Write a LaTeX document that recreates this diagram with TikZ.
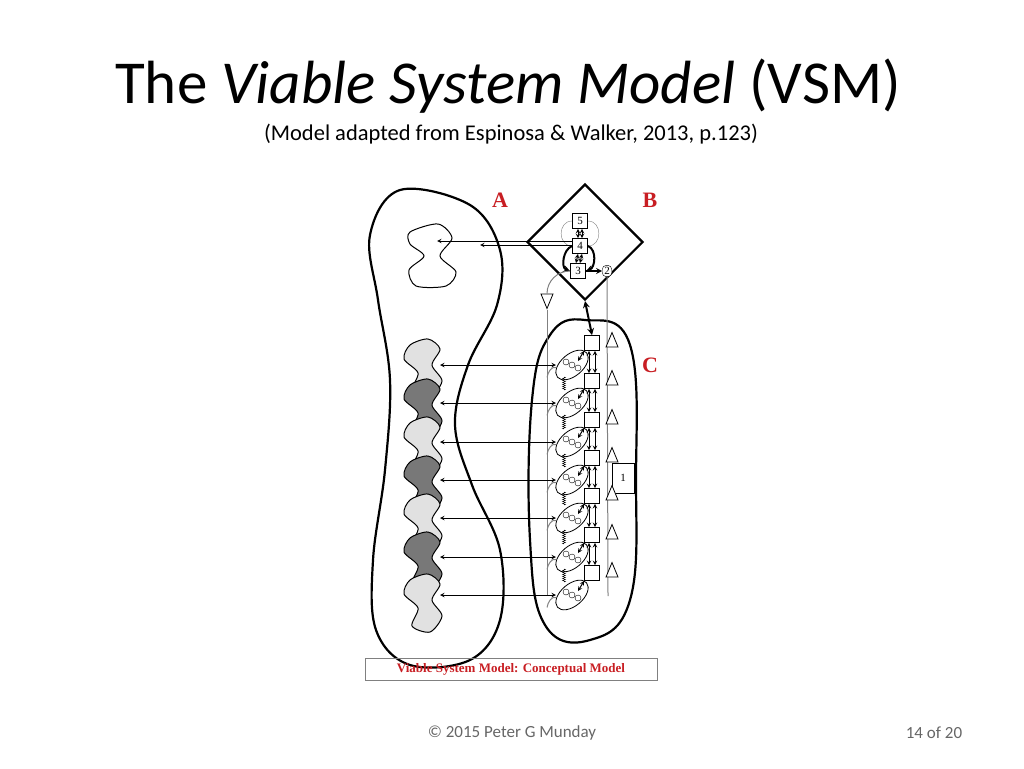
\documentclass[tikz,border=0pt]{standalone}
\usepackage{fontspec}
\setmainfont{Carlito}
\newfontfamily\serifbold{Liberation Serif}
\usetikzlibrary{positioning}
\usetikzlibrary{shapes.geometric}
\usetikzlibrary{decorations.pathmorphing}
\definecolor{vsmred}{RGB}{200,30,35}
\definecolor{lightblob}{RGB}{225,225,225}
\definecolor{darkblob}{RGB}{120,120,120}
\tikzset{
  sys/.style={draw,fill=white,line width=0.8pt,minimum size=15pt,inner sep=1pt,font=\serifbold\fontsize{11}{11}\selectfont},
  tri/.style={draw,line width=0.8pt,isosceles triangle,shape border rotate=90,minimum width=12pt,minimum height=9pt,inner sep=0pt,fill=white},
  op/.style={draw,line width=0.8pt,ellipse,minimum width=38pt,minimum height=22pt,rotate=40,fill=white},
  lbl/.style={text=vsmred,font=\serifbold\bfseries\fontsize{22}{22}\selectfont},
  link/.style={line width=1pt,-stealth},
  dlink/.style={line width=1pt,stealth-stealth},
  blob/.style={draw,line width=1pt},
  outline/.style={draw,line width=2.2pt}
}
\begin{document}
\begin{tikzpicture}[x=1pt,y=-1pt]
\useasboundingbox (0,0) rectangle (1024,768);
% headings
\node (title) at (508,86) {\fontsize{61}{66}\selectfont The \textit{Viable System Model} (VSM)};
\node (sub) at (511,134) {\fontsize{22.5}{26}\selectfont (Model adapted from Espinosa \& Walker, 2013, p.123)};
\node (copy) at (512,733) {\fontsize{17}{20}\selectfont\color{gray!80!black}\textcopyright{} 2015 Peter G Munday};
\node (page) at (934,733) {\fontsize{17}{20}\selectfont\color{gray!80!black}14 of 20};
% environment A
\draw[outline] plot[smooth cycle,tension=0.6] coordinates {(400,190) (470,205) (500,250) (497,305) (468,365) (455,425) (472,485) (500,550) (500,620) (470,660) (410,665) (376,630) (373,560) (385,470) (390,380) (378,300) (370,235)};
\draw[blob] plot[smooth cycle] coordinates {(410,232) (438,224) (452,238) (440,256) (456,272) (446,286) (416,286) (409,270) (424,256) (410,244)};
\foreach \y/\c in {345/lightblob,385/darkblob,423/lightblob,462/darkblob,500/lightblob,538/darkblob,580/lightblob}
  \draw[blob,fill=\c] plot[smooth cycle] coordinates {(410,\y) (428,\y-6) (440,\y+4) (432,\y+20) (442,\y+36) (430,\y+52) (412,\y+46) (418,\y+28) (404,\y+14)};
% metasystem B
\node[outline,diamond,minimum size=116pt,inner sep=0pt] (meta) at (585,242) {};
\node[sys] (s5) at (580,221) {5};
\node[sys] (s4) at (580,246) {4};
\node[sys] (s3) at (578,271) {3};
\node[draw,rounded corners=4pt,fill=white,inner sep=2pt,font=\serifbold\fontsize{11}{11}\selectfont] (s2) at (607,271) {2};
\draw[dlink] ([xshift=-2pt]s5.south) -- ([xshift=-2pt]s4.north);
\draw[dlink] ([xshift=2pt]s5.south) -- ([xshift=2pt]s4.north);
\draw[dlink] ([xshift=-2pt]s4.south) -- ([xshift=-2pt]s3.north);
\draw[dlink] ([xshift=2pt]s4.south) -- ([xshift=2pt]s3.north);
\draw[gray] (s5.west) to[out=180,in=180,looseness=1.5] (s4.west);
\draw[gray] (s5.east) to[out=0,in=0,looseness=1.5] (s4.east);
\draw[line width=2pt,-stealth] (s4.west) to[out=200,in=160] (s3.west);
\draw[line width=2pt,-stealth] (s4.east) to[out=-20,in=20] (s3.east);
\draw[line width=1.6pt,-stealth] (s3.east) -- (s2.west);
\coordinate (envtop) at (437,241);
\coordinate (envmid) at (480,245);
\draw[link] (s4.west |- envtop) -- (envtop);
\draw[link] (s4.west |- envmid) -- (envmid);
% system 1 column C
\draw[outline] plot[smooth cycle,tension=0.7] coordinates {(585,320) (630,345) (636,480) (630,600) (590,640) (545,625) (530,540) (532,400) (550,335)};
\node[tri,shape border rotate=-90] (sp) at (547,298) {};
\draw[gray,line width=1pt] (s3.west) to[out=180,in=90] (sp.north);
\coordinate (spbot) at (547,596);
\draw[gray,line width=1pt] (sp.south) -- (spbot);
\coordinate (s2bot) at (608,596);
\draw[gray,line width=1pt] (s2.south) -- (s2bot);
\node[sys,minimum width=22pt,minimum height=30pt] (one) at (623,478) {1};
\foreach \i/\y in {1/343,2/381,3/420,4/458,5/496,6/535,7/573}{
  \node[sys] (box\i) at (592,\y) {};
  \node[tri] (alg\i) at (612,\y) {};
  \node[op] (op\i) at (572,\y+22) {};
  \foreach \dx in {-6,0,6}
    \draw[thin] ([xshift=\dx pt,yshift=-\dx pt*0.5]op\i.center) circle (3pt);
  \draw[dlink] (box\i.south west) -- ([shift={(6,-4)}]op\i.center);
  \coordinate (env\i) at (440,\y+22);
  \draw[dlink] ([xshift=-16pt]op\i.center) -- (env\i);
  \draw[gray,line width=1pt] (spbot |- op\i.west) to[out=80,in=160] (op\i.north west);
}
\foreach \i [count=\j from 2] in {1,...,6}{
  \draw[dlink] ([xshift=-3pt]box\i.south) -- ([xshift=-3pt]box\j.north);
  \draw[dlink] ([xshift=3pt]box\i.south) -- ([xshift=3pt]box\j.north);
  \draw[decorate,decoration={zigzag,segment length=2pt,amplitude=1.5pt}] ([shift={(-8,12)}]op\i.center) -- ([shift={(-8,-13)}]op\j.center);
}
\draw[line width=2pt,stealth-stealth] (meta.south) -- (box1.north);
% labels and caption
\node[lbl] (la) at (500,200) {A};
\node[lbl] (lb) at (650,200) {B};
\node[lbl] (lc) at (650,365) {C};
\node[draw,gray,minimum width=292pt,minimum height=22pt,text=vsmred,font=\serifbold\bfseries\fontsize{13}{13}\selectfont] (cap) at (511,669) {Viable System Model: Conceptual Model};
\end{tikzpicture}
\end{document}
